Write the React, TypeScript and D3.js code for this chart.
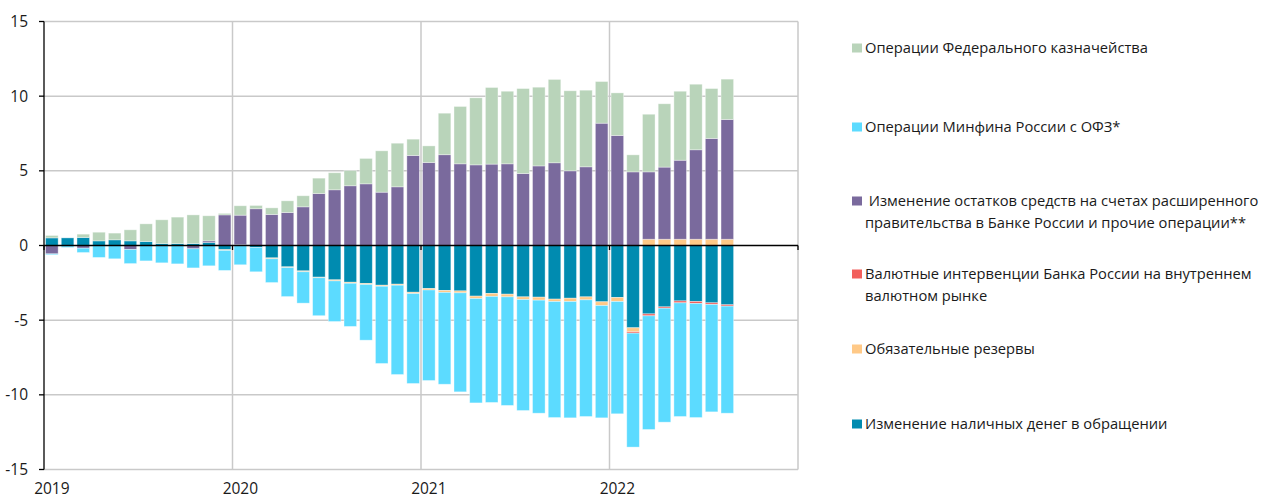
import React from "react";
import * as d3 from "d3";

// ---------- DATA ----------
const months = [
  "2019-01","2019-02","2019-03","2019-04","2019-05","2019-06","2019-07","2019-08","2019-09","2019-10","2019-11","2019-12",
  "2020-01","2020-02","2020-03","2020-04","2020-05","2020-06","2020-07","2020-08","2020-09","2020-10","2020-11","2020-12",
  "2021-01","2021-02","2021-03","2021-04","2021-05","2021-06","2021-07","2021-08","2021-09","2021-10","2021-11","2021-12",
  "2022-01","2022-02","2022-03","2022-04","2022-05","2022-06","2022-07","2022-08",
];
const emptyMonths = ["2022-09","2022-10","2022-11","2022-12"];
const yearLabels = ["2019","2020","2021","2022"];
const yearBoundaries = ["2019-01","2020-01","2021-01","2022-01","2023-01"];
const yTicks = [-15, -10, -5, 0, 5, 10, 15];

// Изменение наличных денег в обращении
const cash = [
  0.51,0.51,0.54,0.31,0.38,0.31,0.27,0.13,0.13,0.13,0.20,-0.28,
  0.05,-0.13,-0.83,-1.43,-1.70,-2.12,-2.30,-2.46,-2.54,-2.66,-2.59,-3.13,
  -2.88,-3.01,-3.04,-3.39,-3.21,-3.26,-3.44,-3.46,-3.59,-3.53,-3.44,-3.77,
  -3.48,-5.51,-4.58,-4.11,-3.71,-3.75,-3.84,-3.97,
];
// Обязательные резервы
const reserves = [
  0,0,0,0,0,0,0,0,0,0,0,-0.05,
  0,0,-0.06,-0.05,-0.06,-0.04,-0.07,-0.07,-0.07,-0.07,-0.07,-0.09,
  -0.10,-0.13,-0.13,-0.16,-0.20,-0.18,-0.18,-0.20,-0.16,-0.22,-0.20,-0.25,
  -0.27,-0.27,0.42,0.42,0.42,0.42,0.42,0.42,
];
// Валютные интервенции Банка России
const fx = [
  0,0,0,0,0,0,0,0,0,0,0,0,
  0,0,0,0,0,0,0,0,0,0,0,0,
  0,0,0,0,0,0,0,0,0,0,0,0,
  0,-0.09,-0.13,-0.09,-0.13,-0.13,-0.11,-0.09,
];
// Изменение остатков средств расширенного правительства и прочие операции
const govt = [
  -0.56,-0.03,-0.18,0,0,-0.27,0,0,0,-0.22,0.11,2.05,
  1.98,2.46,2.08,2.21,2.59,3.48,3.73,4.00,4.13,3.57,3.93,6.03,
  5.56,6.08,5.47,5.40,5.45,5.47,4.82,5.33,5.54,5.00,5.27,8.19,
  7.37,4.93,4.51,4.83,5.29,5.99,6.75,8.02,
];
// Операции Минфина России с ОФЗ
const ofz = [
  -0.06,-0.10,-0.29,-0.80,-0.89,-0.94,-1.03,-1.16,-1.23,-1.28,-1.36,-1.34,
  -1.29,-1.63,-1.59,-1.94,-2.10,-2.54,-2.72,-2.89,-3.73,-5.17,-5.98,-6.02,
  -6.06,-6.15,-6.63,-6.99,-7.10,-7.27,-7.43,-7.57,-7.77,-7.79,-7.81,-7.52,
  -7.52,-7.63,-7.61,-7.63,-7.61,-7.64,-7.19,-7.17,
];
// Операции Федерального казначейства
const treasury = [
  0.16,0,0.22,0.58,0.45,0.74,1.18,1.59,1.77,1.92,1.68,0.10,
  0.63,0.22,0.44,0.78,0.74,1.03,1.14,1.02,1.70,2.77,2.92,1.09,
  1.11,2.78,3.84,4.49,5.13,4.86,5.69,5.27,5.58,5.36,5.13,2.79,
  2.85,1.14,3.86,4.24,4.62,4.39,3.34,2.70,
];

const seriesKeys = ["cash", "reserves", "fx", "govt", "ofz", "treasury"];
const seriesColors: Record<string, string> = {
  cash: "#008bb0",
  reserves: "#ffc987",
  fx: "#f25f5c",
  govt: "#7a6a9d",
  ofz: "#5cdbff",
  treasury: "#b9d4ba",
};
const legendItems = [
  { key: "treasury", lines: ["Операции Федерального казначейства"] },
  { key: "ofz", lines: ["Операции Минфина России с ОФЗ*"] },
  { key: "govt", lines: [" Изменение остатков средств на счетах расширенного", "правительства в Банке России и прочие операции**"] },
  { key: "fx", lines: ["Валютные интервенции Банка России на внутреннем", "валютном рынке"] },
  { key: "reserves", lines: ["Обязательные резервы"] },
  { key: "cash", lines: ["Изменение наличных денег в обращении"] },
];

export default function App() {
  const W = 1264, H = 499;
  const left = 44, right = 798, top = 21.5, bottom = 469.5;

  const x = d3.scaleBand<string>()
    .domain([...months, ...emptyMonths])
    .range([left, right])
    .paddingInner(0.2)
    .paddingOuter(0.1);
  const slotStart = (m: string) => (x(m) ?? right) - x.step() * 0.1;
  const xb = (m: string) => (m === "2023-01" ? right : slotStart(m));

  const y = d3.scaleLinear().domain([-15, 15]).range([bottom, top]);

  const table = months.map((m, i) => ({
    month: m,
    cash: cash[i],
    reserves: reserves[i],
    fx: fx[i],
    govt: govt[i],
    ofz: ofz[i],
    treasury: treasury[i],
  }));
  const stacked = d3.stack<any>().keys(seriesKeys).offset(d3.stackOffsetDiverging)(table);

  const font = "'Open Sans', 'Noto Sans', sans-serif";
  const legendY = [48, 127, 201, 274, 349, 424];
  const lineGap = 21.5;
  const textColor = "#1a1a1a";

  return (
    <div style={{ position: "absolute", left: 0, top: 0 }}>
      <svg width={W} height={H} style={{ display: "block" }}>
        <rect width={W} height={H} fill="#fff" />
        {/* horizontal gridlines */}
        {yTicks.filter((t) => t !== 0).map((t) => (
          <line key={"h" + t} x1={left} x2={right} y1={y(t)} y2={y(t)} stroke="#c9c9c9" strokeWidth={1.5} />
        ))}
        {/* vertical gridlines */}
        {yearBoundaries.slice(1).map((m) => (
          <line key={"v" + m} x1={xb(m)} x2={xb(m)} y1={top} y2={bottom} stroke="#c9c9c9" strokeWidth={1.5} />
        ))}
        {/* bars */}
        {stacked.map((s) => (
          <g key={s.key} fill={seriesColors[s.key]}>
            {s.map((d, i) => {
              const h = Math.abs(y(d[0]) - y(d[1]));
              if (h < 0.01) return null;
              return (
                <rect
                  key={i}
                  x={x(d.data.month)}
                  width={x.bandwidth()}
                  y={Math.min(y(d[0]), y(d[1]))}
                  height={h}
                  stroke="#ffffff"
                  strokeOpacity={0.45}
                  strokeWidth={0.8}
                />
              );
            })}
          </g>
        ))}
        {/* zero axis */}
        <line x1={left} x2={right} y1={y(0)} y2={y(0)} stroke="#000" strokeWidth={1.6} />
        {yearBoundaries.map((m) => (
          <line key={"xt" + m} x1={xb(m)} x2={xb(m)} y1={y(0)} y2={y(0) + 4.5} stroke="#000" strokeWidth={1.3} />
        ))}
        {/* left axis */}
        <line x1={left} x2={left} y1={top} y2={bottom} stroke="#000" strokeWidth={1.3} />
        {yTicks.map((t) => (
          <g key={"yt" + t}>
            <line x1={left - 5} x2={left} y1={y(t)} y2={y(t)} stroke="#000" strokeWidth={1.3} />
            <text x={28} y={y(t)} dy="0.35em" textAnchor="end" fontFamily={font} fontSize={15.5} fill={textColor}>
              {t}
            </text>
          </g>
        ))}
        {/* year labels */}
        {yearLabels.map((yl) => {
          const m = yl + "-01";
          return (
            <text key={yl} x={(x(m) ?? 0) + x.bandwidth() / 2} y={494} textAnchor="middle" fontFamily={font} fontSize={15.5} fill={textColor}>
              {yl}
            </text>
          );
        })}
        {/* legend */}
        {legendItems.map((it, k) => (
          <g key={it.key}>
            <rect x={852} y={legendY[k] - 4.5} width={10} height={9} fill={seriesColors[it.key]} />
            {it.lines.map((ln, j) => (
              <text
                key={j}
                x={865}
                y={legendY[k] + j * lineGap}
                dy="0.35em"
                fontFamily={font}
                fontSize={14.7}
                fill={textColor}
                style={{ whiteSpace: "pre" }}
              >
                {ln}
              </text>
            ))}
          </g>
        ))}
      </svg>
    </div>
  );
}
